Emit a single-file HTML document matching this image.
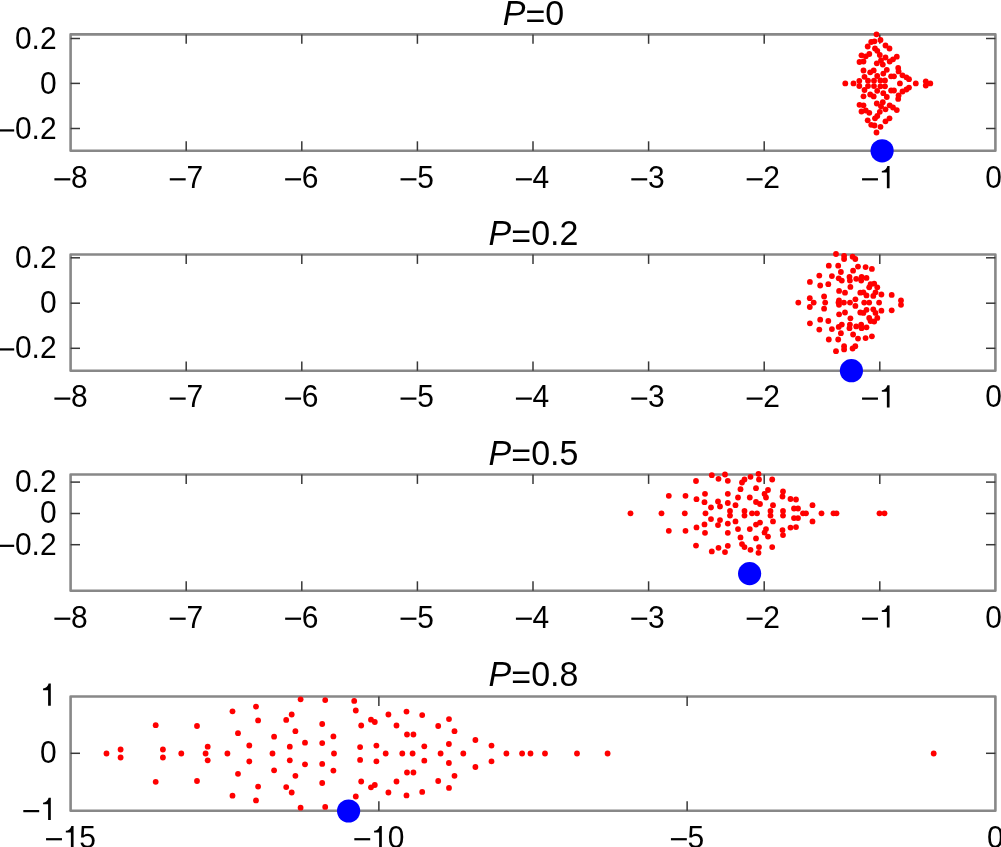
<!DOCTYPE html>
<html><head><meta charset="utf-8"><style>
html,body{margin:0;padding:0;background:#fff;overflow:hidden}
svg{display:block;will-change:transform}
text{font-family:"Liberation Sans",sans-serif;fill:#000}
path,rect{shape-rendering:geometricPrecision}
</style></head><body>
<svg width="1001" height="847" viewBox="0 0 1001 847">
<g>
<rect x="70.6" y="34.4" width="924.8" height="116.3" fill="none" stroke="#888" stroke-width="2.6" stroke-linejoin="round"/>
<g transform="translate(0,176.80) scale(1,1.05) translate(0,-176.80)"><rect x="54.40" y="178.15" width="15.90" height="2.10"/><text x="71.02" y="187.60" font-size="30">8</text></g>
<line x1="186.20" y1="34.4" x2="186.20" y2="43.80" stroke="#383838" stroke-width="1.5"/>
<line x1="186.20" y1="150.7" x2="186.20" y2="141.30" stroke="#383838" stroke-width="1.5"/>
<g transform="translate(0,176.80) scale(1,1.05) translate(0,-176.80)"><rect x="169.78" y="178.15" width="15.90" height="2.10"/><text x="186.40" y="187.60" font-size="30">7</text></g>
<line x1="301.80" y1="34.4" x2="301.80" y2="43.80" stroke="#383838" stroke-width="1.5"/>
<line x1="301.80" y1="150.7" x2="301.80" y2="141.30" stroke="#383838" stroke-width="1.5"/>
<g transform="translate(0,176.80) scale(1,1.05) translate(0,-176.80)"><rect x="285.16" y="178.15" width="15.90" height="2.10"/><text x="301.78" y="187.60" font-size="30">6</text></g>
<line x1="417.40" y1="34.4" x2="417.40" y2="43.80" stroke="#383838" stroke-width="1.5"/>
<line x1="417.40" y1="150.7" x2="417.40" y2="141.30" stroke="#383838" stroke-width="1.5"/>
<g transform="translate(0,176.80) scale(1,1.05) translate(0,-176.80)"><rect x="400.54" y="178.15" width="15.90" height="2.10"/><text x="417.16" y="187.60" font-size="30">5</text></g>
<line x1="533.00" y1="34.4" x2="533.00" y2="43.80" stroke="#383838" stroke-width="1.5"/>
<line x1="533.00" y1="150.7" x2="533.00" y2="141.30" stroke="#383838" stroke-width="1.5"/>
<g transform="translate(0,176.80) scale(1,1.05) translate(0,-176.80)"><rect x="515.92" y="178.15" width="15.90" height="2.10"/><text x="532.54" y="187.60" font-size="30">4</text></g>
<line x1="648.60" y1="34.4" x2="648.60" y2="43.80" stroke="#383838" stroke-width="1.5"/>
<line x1="648.60" y1="150.7" x2="648.60" y2="141.30" stroke="#383838" stroke-width="1.5"/>
<g transform="translate(0,176.80) scale(1,1.05) translate(0,-176.80)"><rect x="631.30" y="178.15" width="15.90" height="2.10"/><text x="647.92" y="187.60" font-size="30">3</text></g>
<line x1="764.20" y1="34.4" x2="764.20" y2="43.80" stroke="#383838" stroke-width="1.5"/>
<line x1="764.20" y1="150.7" x2="764.20" y2="141.30" stroke="#383838" stroke-width="1.5"/>
<g transform="translate(0,176.80) scale(1,1.05) translate(0,-176.80)"><rect x="746.68" y="178.15" width="15.90" height="2.10"/><text x="763.30" y="187.60" font-size="30">2</text></g>
<line x1="879.80" y1="34.4" x2="879.80" y2="43.80" stroke="#383838" stroke-width="1.5"/>
<line x1="879.80" y1="150.7" x2="879.80" y2="141.30" stroke="#383838" stroke-width="1.5"/>
<g transform="translate(0,176.80) scale(1,1.05) translate(0,-176.80)"><rect x="862.06" y="178.15" width="15.90" height="2.10"/><path d="M0.273 0L0.363 0L0.363 0.703L0.29 0.703C0.265 0.615 0.2 0.55 0.105 0.545L0.105 0.495L0.273 0.495Z" transform="translate(878.68,187.60) scale(30,-30)"/></g>
<g transform="translate(0,176.80) scale(1,1.05) translate(0,-176.80)"><text x="985.30" y="187.60" font-size="30">0</text></g>
<line x1="70.6" y1="38.5" x2="80.00" y2="38.5" stroke="#383838" stroke-width="1.5"/>
<line x1="995.4" y1="38.5" x2="986.00" y2="38.5" stroke="#383838" stroke-width="1.5"/>
<g transform="translate(0,37.90) scale(1,1.05) translate(0,-37.90)"><text x="14.90" y="48.70" font-size="30">0.2</text></g>
<line x1="70.6" y1="83.4" x2="80.00" y2="83.4" stroke="#383838" stroke-width="1.5"/>
<line x1="995.4" y1="83.4" x2="986.00" y2="83.4" stroke="#383838" stroke-width="1.5"/>
<g transform="translate(0,82.80) scale(1,1.05) translate(0,-82.80)"><text x="39.92" y="93.60" font-size="30">0</text></g>
<line x1="70.6" y1="128.5" x2="80.00" y2="128.5" stroke="#383838" stroke-width="1.5"/>
<line x1="995.4" y1="128.5" x2="986.00" y2="128.5" stroke="#383838" stroke-width="1.5"/>
<g transform="translate(0,127.90) scale(1,1.05) translate(0,-127.90)"><rect x="-1.72" y="129.25" width="15.90" height="2.10"/><text x="14.90" y="138.70" font-size="30">0.2</text></g>
<circle cx="876.5" cy="34.3" r="2.9" fill="#f00"/>
<circle cx="876.5" cy="132.5" r="2.9" fill="#f00"/>
<circle cx="880.5" cy="40.0" r="2.9" fill="#f00"/>
<circle cx="880.5" cy="126.8" r="2.9" fill="#f00"/>
<circle cx="871.2" cy="42.0" r="2.9" fill="#f00"/>
<circle cx="871.2" cy="124.8" r="2.9" fill="#f00"/>
<circle cx="874.5" cy="41.3" r="2.9" fill="#f00"/>
<circle cx="874.5" cy="125.5" r="2.9" fill="#f00"/>
<circle cx="867.7" cy="46.5" r="2.9" fill="#f00"/>
<circle cx="867.7" cy="120.3" r="2.9" fill="#f00"/>
<circle cx="885.5" cy="45.5" r="2.9" fill="#f00"/>
<circle cx="885.5" cy="121.3" r="2.9" fill="#f00"/>
<circle cx="889.5" cy="48.5" r="2.9" fill="#f00"/>
<circle cx="889.5" cy="118.3" r="2.9" fill="#f00"/>
<circle cx="875.0" cy="48.5" r="2.9" fill="#f00"/>
<circle cx="875.0" cy="118.3" r="2.9" fill="#f00"/>
<circle cx="877.3" cy="50.8" r="2.9" fill="#f00"/>
<circle cx="877.3" cy="116.0" r="2.9" fill="#f00"/>
<circle cx="879.8" cy="55.0" r="2.9" fill="#f00"/>
<circle cx="879.8" cy="111.8" r="2.9" fill="#f00"/>
<circle cx="861.5" cy="55.3" r="2.9" fill="#f00"/>
<circle cx="861.5" cy="111.5" r="2.9" fill="#f00"/>
<circle cx="865.8" cy="56.3" r="2.9" fill="#f00"/>
<circle cx="865.8" cy="110.5" r="2.9" fill="#f00"/>
<circle cx="869.3" cy="54.0" r="2.9" fill="#f00"/>
<circle cx="869.3" cy="112.8" r="2.9" fill="#f00"/>
<circle cx="859.5" cy="62.0" r="2.9" fill="#f00"/>
<circle cx="859.5" cy="104.8" r="2.9" fill="#f00"/>
<circle cx="863.5" cy="61.5" r="2.9" fill="#f00"/>
<circle cx="863.5" cy="105.3" r="2.9" fill="#f00"/>
<circle cx="876.8" cy="63.3" r="2.9" fill="#f00"/>
<circle cx="876.8" cy="103.5" r="2.9" fill="#f00"/>
<circle cx="882.8" cy="64.6" r="2.9" fill="#f00"/>
<circle cx="882.8" cy="102.2" r="2.9" fill="#f00"/>
<circle cx="881.0" cy="60.5" r="2.9" fill="#f00"/>
<circle cx="881.0" cy="106.3" r="2.9" fill="#f00"/>
<circle cx="885.5" cy="57.5" r="2.9" fill="#f00"/>
<circle cx="885.5" cy="109.3" r="2.9" fill="#f00"/>
<circle cx="889.7" cy="61.5" r="2.9" fill="#f00"/>
<circle cx="889.7" cy="105.3" r="2.9" fill="#f00"/>
<circle cx="893.0" cy="59.3" r="2.9" fill="#f00"/>
<circle cx="893.0" cy="107.5" r="2.9" fill="#f00"/>
<circle cx="896.8" cy="56.7" r="2.9" fill="#f00"/>
<circle cx="896.8" cy="110.1" r="2.9" fill="#f00"/>
<circle cx="863.5" cy="70.5" r="2.9" fill="#f00"/>
<circle cx="863.5" cy="96.3" r="2.9" fill="#f00"/>
<circle cx="870.2" cy="72.3" r="2.9" fill="#f00"/>
<circle cx="870.2" cy="94.5" r="2.9" fill="#f00"/>
<circle cx="873.7" cy="70.4" r="2.9" fill="#f00"/>
<circle cx="873.7" cy="96.4" r="2.9" fill="#f00"/>
<circle cx="886.8" cy="69.8" r="2.9" fill="#f00"/>
<circle cx="886.8" cy="97.0" r="2.9" fill="#f00"/>
<circle cx="883.3" cy="73.6" r="2.9" fill="#f00"/>
<circle cx="883.3" cy="93.2" r="2.9" fill="#f00"/>
<circle cx="877.2" cy="76.0" r="2.9" fill="#f00"/>
<circle cx="877.2" cy="90.8" r="2.9" fill="#f00"/>
<circle cx="898.2" cy="67.9" r="2.9" fill="#f00"/>
<circle cx="898.2" cy="98.9" r="2.9" fill="#f00"/>
<circle cx="898.6" cy="71.4" r="2.9" fill="#f00"/>
<circle cx="898.6" cy="95.4" r="2.9" fill="#f00"/>
<circle cx="891.1" cy="76.3" r="2.9" fill="#f00"/>
<circle cx="891.1" cy="90.5" r="2.9" fill="#f00"/>
<circle cx="894.0" cy="76.3" r="2.9" fill="#f00"/>
<circle cx="894.0" cy="90.5" r="2.9" fill="#f00"/>
<circle cx="864.5" cy="76.8" r="2.9" fill="#f00"/>
<circle cx="864.5" cy="90.0" r="2.9" fill="#f00"/>
<circle cx="902.5" cy="75.3" r="2.9" fill="#f00"/>
<circle cx="902.5" cy="91.5" r="2.9" fill="#f00"/>
<circle cx="906.4" cy="77.3" r="2.9" fill="#f00"/>
<circle cx="906.4" cy="89.5" r="2.9" fill="#f00"/>
<circle cx="909.0" cy="79.2" r="2.9" fill="#f00"/>
<circle cx="909.0" cy="87.6" r="2.9" fill="#f00"/>
<circle cx="859.3" cy="80.8" r="2.9" fill="#f00"/>
<circle cx="859.3" cy="86.0" r="2.9" fill="#f00"/>
<circle cx="868.0" cy="80.7" r="2.9" fill="#f00"/>
<circle cx="868.0" cy="86.1" r="2.9" fill="#f00"/>
<circle cx="874.0" cy="80.7" r="2.9" fill="#f00"/>
<circle cx="874.0" cy="86.1" r="2.9" fill="#f00"/>
<circle cx="880.4" cy="80.5" r="2.9" fill="#f00"/>
<circle cx="880.4" cy="86.3" r="2.9" fill="#f00"/>
<circle cx="885.0" cy="80.5" r="2.9" fill="#f00"/>
<circle cx="885.0" cy="86.3" r="2.9" fill="#f00"/>
<circle cx="925.8" cy="81.3" r="2.9" fill="#f00"/>
<circle cx="925.8" cy="85.5" r="2.9" fill="#f00"/>
<circle cx="845.3" cy="83.4" r="2.9" fill="#f00"/>
<circle cx="853.5" cy="83.4" r="2.9" fill="#f00"/>
<circle cx="899.9" cy="83.4" r="2.9" fill="#f00"/>
<circle cx="915.8" cy="83.4" r="2.9" fill="#f00"/>
<circle cx="930.3" cy="83.4" r="2.9" fill="#f00"/>
<text transform="translate(0,12.26) scale(1,1.03) translate(0,-12.26)" x="533.5" y="24.5" font-size="34" text-anchor="middle"><tspan font-style="italic">P</tspan><tspan dy="2.6">=</tspan><tspan dy="-2.6">0</tspan></text>
<circle cx="882.1" cy="150.8" r="11.6" fill="#00f"/>
</g>
<g>
<rect x="70.6" y="254.5" width="924.8" height="116.3" fill="none" stroke="#888" stroke-width="2.6" stroke-linejoin="round"/>
<g transform="translate(0,396.10) scale(1,1.05) translate(0,-396.10)"><rect x="54.40" y="397.45" width="15.90" height="2.10"/><text x="71.02" y="406.90" font-size="30">8</text></g>
<line x1="186.20" y1="254.5" x2="186.20" y2="263.90" stroke="#383838" stroke-width="1.5"/>
<line x1="186.20" y1="370.8" x2="186.20" y2="361.40" stroke="#383838" stroke-width="1.5"/>
<g transform="translate(0,396.10) scale(1,1.05) translate(0,-396.10)"><rect x="169.78" y="397.45" width="15.90" height="2.10"/><text x="186.40" y="406.90" font-size="30">7</text></g>
<line x1="301.80" y1="254.5" x2="301.80" y2="263.90" stroke="#383838" stroke-width="1.5"/>
<line x1="301.80" y1="370.8" x2="301.80" y2="361.40" stroke="#383838" stroke-width="1.5"/>
<g transform="translate(0,396.10) scale(1,1.05) translate(0,-396.10)"><rect x="285.16" y="397.45" width="15.90" height="2.10"/><text x="301.78" y="406.90" font-size="30">6</text></g>
<line x1="417.40" y1="254.5" x2="417.40" y2="263.90" stroke="#383838" stroke-width="1.5"/>
<line x1="417.40" y1="370.8" x2="417.40" y2="361.40" stroke="#383838" stroke-width="1.5"/>
<g transform="translate(0,396.10) scale(1,1.05) translate(0,-396.10)"><rect x="400.54" y="397.45" width="15.90" height="2.10"/><text x="417.16" y="406.90" font-size="30">5</text></g>
<line x1="533.00" y1="254.5" x2="533.00" y2="263.90" stroke="#383838" stroke-width="1.5"/>
<line x1="533.00" y1="370.8" x2="533.00" y2="361.40" stroke="#383838" stroke-width="1.5"/>
<g transform="translate(0,396.10) scale(1,1.05) translate(0,-396.10)"><rect x="515.92" y="397.45" width="15.90" height="2.10"/><text x="532.54" y="406.90" font-size="30">4</text></g>
<line x1="648.60" y1="254.5" x2="648.60" y2="263.90" stroke="#383838" stroke-width="1.5"/>
<line x1="648.60" y1="370.8" x2="648.60" y2="361.40" stroke="#383838" stroke-width="1.5"/>
<g transform="translate(0,396.10) scale(1,1.05) translate(0,-396.10)"><rect x="631.30" y="397.45" width="15.90" height="2.10"/><text x="647.92" y="406.90" font-size="30">3</text></g>
<line x1="764.20" y1="254.5" x2="764.20" y2="263.90" stroke="#383838" stroke-width="1.5"/>
<line x1="764.20" y1="370.8" x2="764.20" y2="361.40" stroke="#383838" stroke-width="1.5"/>
<g transform="translate(0,396.10) scale(1,1.05) translate(0,-396.10)"><rect x="746.68" y="397.45" width="15.90" height="2.10"/><text x="763.30" y="406.90" font-size="30">2</text></g>
<line x1="879.80" y1="254.5" x2="879.80" y2="263.90" stroke="#383838" stroke-width="1.5"/>
<line x1="879.80" y1="370.8" x2="879.80" y2="361.40" stroke="#383838" stroke-width="1.5"/>
<g transform="translate(0,396.10) scale(1,1.05) translate(0,-396.10)"><rect x="862.06" y="397.45" width="15.90" height="2.10"/><path d="M0.273 0L0.363 0L0.363 0.703L0.29 0.703C0.265 0.615 0.2 0.55 0.105 0.545L0.105 0.495L0.273 0.495Z" transform="translate(878.68,406.90) scale(30,-30)"/></g>
<g transform="translate(0,396.10) scale(1,1.05) translate(0,-396.10)"><text x="985.30" y="406.90" font-size="30">0</text></g>
<line x1="70.6" y1="257.8" x2="80.00" y2="257.8" stroke="#383838" stroke-width="1.5"/>
<line x1="995.4" y1="257.8" x2="986.00" y2="257.8" stroke="#383838" stroke-width="1.5"/>
<g transform="translate(0,256.40) scale(1,1.05) translate(0,-256.40)"><text x="14.90" y="267.20" font-size="30">0.2</text></g>
<line x1="70.6" y1="303.2" x2="80.00" y2="303.2" stroke="#383838" stroke-width="1.5"/>
<line x1="995.4" y1="303.2" x2="986.00" y2="303.2" stroke="#383838" stroke-width="1.5"/>
<g transform="translate(0,301.80) scale(1,1.05) translate(0,-301.80)"><text x="39.92" y="312.60" font-size="30">0</text></g>
<line x1="70.6" y1="348.3" x2="80.00" y2="348.3" stroke="#383838" stroke-width="1.5"/>
<line x1="995.4" y1="348.3" x2="986.00" y2="348.3" stroke="#383838" stroke-width="1.5"/>
<g transform="translate(0,346.90) scale(1,1.05) translate(0,-346.90)"><rect x="-1.72" y="348.25" width="15.90" height="2.10"/><text x="14.90" y="357.70" font-size="30">0.2</text></g>
<circle cx="836.0" cy="254.0" r="2.9" fill="#f00"/>
<circle cx="836.0" cy="351.2" r="2.9" fill="#f00"/>
<circle cx="844.1" cy="255.8" r="2.9" fill="#f00"/>
<circle cx="844.1" cy="349.4" r="2.9" fill="#f00"/>
<circle cx="844.1" cy="259.0" r="2.9" fill="#f00"/>
<circle cx="844.1" cy="346.2" r="2.9" fill="#f00"/>
<circle cx="852.6" cy="256.7" r="2.9" fill="#f00"/>
<circle cx="852.6" cy="348.5" r="2.9" fill="#f00"/>
<circle cx="855.3" cy="259.0" r="2.9" fill="#f00"/>
<circle cx="855.3" cy="346.2" r="2.9" fill="#f00"/>
<circle cx="828.8" cy="265.7" r="2.9" fill="#f00"/>
<circle cx="828.8" cy="339.5" r="2.9" fill="#f00"/>
<circle cx="838.2" cy="265.7" r="2.9" fill="#f00"/>
<circle cx="838.2" cy="339.5" r="2.9" fill="#f00"/>
<circle cx="858.0" cy="266.6" r="2.9" fill="#f00"/>
<circle cx="858.0" cy="338.6" r="2.9" fill="#f00"/>
<circle cx="865.6" cy="267.1" r="2.9" fill="#f00"/>
<circle cx="865.6" cy="338.1" r="2.9" fill="#f00"/>
<circle cx="871.9" cy="268.9" r="2.9" fill="#f00"/>
<circle cx="871.9" cy="336.3" r="2.9" fill="#f00"/>
<circle cx="840.9" cy="272.0" r="2.9" fill="#f00"/>
<circle cx="840.9" cy="333.2" r="2.9" fill="#f00"/>
<circle cx="853.1" cy="270.7" r="2.9" fill="#f00"/>
<circle cx="853.1" cy="334.5" r="2.9" fill="#f00"/>
<circle cx="819.3" cy="275.6" r="2.9" fill="#f00"/>
<circle cx="819.3" cy="329.6" r="2.9" fill="#f00"/>
<circle cx="831.9" cy="276.1" r="2.9" fill="#f00"/>
<circle cx="831.9" cy="329.1" r="2.9" fill="#f00"/>
<circle cx="838.7" cy="278.3" r="2.9" fill="#f00"/>
<circle cx="838.7" cy="326.9" r="2.9" fill="#f00"/>
<circle cx="841.8" cy="280.6" r="2.9" fill="#f00"/>
<circle cx="841.8" cy="324.6" r="2.9" fill="#f00"/>
<circle cx="849.5" cy="277.0" r="2.9" fill="#f00"/>
<circle cx="849.5" cy="328.2" r="2.9" fill="#f00"/>
<circle cx="849.9" cy="280.6" r="2.9" fill="#f00"/>
<circle cx="849.9" cy="324.6" r="2.9" fill="#f00"/>
<circle cx="850.4" cy="286.9" r="2.9" fill="#f00"/>
<circle cx="850.4" cy="318.3" r="2.9" fill="#f00"/>
<circle cx="856.2" cy="278.8" r="2.9" fill="#f00"/>
<circle cx="856.2" cy="326.4" r="2.9" fill="#f00"/>
<circle cx="861.6" cy="277.0" r="2.9" fill="#f00"/>
<circle cx="861.6" cy="328.2" r="2.9" fill="#f00"/>
<circle cx="861.2" cy="280.6" r="2.9" fill="#f00"/>
<circle cx="861.2" cy="324.6" r="2.9" fill="#f00"/>
<circle cx="866.5" cy="277.9" r="2.9" fill="#f00"/>
<circle cx="866.5" cy="327.3" r="2.9" fill="#f00"/>
<circle cx="809.9" cy="281.9" r="2.9" fill="#f00"/>
<circle cx="809.9" cy="323.3" r="2.9" fill="#f00"/>
<circle cx="820.2" cy="285.5" r="2.9" fill="#f00"/>
<circle cx="820.2" cy="319.7" r="2.9" fill="#f00"/>
<circle cx="828.3" cy="284.2" r="2.9" fill="#f00"/>
<circle cx="828.3" cy="321.0" r="2.9" fill="#f00"/>
<circle cx="870.6" cy="284.2" r="2.9" fill="#f00"/>
<circle cx="870.6" cy="321.0" r="2.9" fill="#f00"/>
<circle cx="874.2" cy="283.7" r="2.9" fill="#f00"/>
<circle cx="874.2" cy="321.5" r="2.9" fill="#f00"/>
<circle cx="869.2" cy="287.3" r="2.9" fill="#f00"/>
<circle cx="869.2" cy="317.9" r="2.9" fill="#f00"/>
<circle cx="877.3" cy="287.3" r="2.9" fill="#f00"/>
<circle cx="877.3" cy="317.9" r="2.9" fill="#f00"/>
<circle cx="839.1" cy="290.9" r="2.9" fill="#f00"/>
<circle cx="839.1" cy="314.3" r="2.9" fill="#f00"/>
<circle cx="845.0" cy="292.7" r="2.9" fill="#f00"/>
<circle cx="845.0" cy="312.5" r="2.9" fill="#f00"/>
<circle cx="860.3" cy="292.7" r="2.9" fill="#f00"/>
<circle cx="860.3" cy="312.5" r="2.9" fill="#f00"/>
<circle cx="863.4" cy="292.3" r="2.9" fill="#f00"/>
<circle cx="863.4" cy="312.9" r="2.9" fill="#f00"/>
<circle cx="866.5" cy="295.4" r="2.9" fill="#f00"/>
<circle cx="866.5" cy="309.8" r="2.9" fill="#f00"/>
<circle cx="875.5" cy="292.3" r="2.9" fill="#f00"/>
<circle cx="875.5" cy="312.9" r="2.9" fill="#f00"/>
<circle cx="873.3" cy="295.9" r="2.9" fill="#f00"/>
<circle cx="873.3" cy="309.3" r="2.9" fill="#f00"/>
<circle cx="881.4" cy="294.5" r="2.9" fill="#f00"/>
<circle cx="881.4" cy="310.7" r="2.9" fill="#f00"/>
<circle cx="891.7" cy="294.9" r="2.9" fill="#f00"/>
<circle cx="891.7" cy="310.3" r="2.9" fill="#f00"/>
<circle cx="809.8" cy="298.2" r="2.9" fill="#f00"/>
<circle cx="809.8" cy="307.0" r="2.9" fill="#f00"/>
<circle cx="824.1" cy="296.5" r="2.9" fill="#f00"/>
<circle cx="824.1" cy="308.7" r="2.9" fill="#f00"/>
<circle cx="839.0" cy="300.4" r="2.9" fill="#f00"/>
<circle cx="839.0" cy="304.8" r="2.9" fill="#f00"/>
<circle cx="855.4" cy="299.3" r="2.9" fill="#f00"/>
<circle cx="855.4" cy="305.9" r="2.9" fill="#f00"/>
<circle cx="901.0" cy="300.4" r="2.9" fill="#f00"/>
<circle cx="901.0" cy="304.8" r="2.9" fill="#f00"/>
<circle cx="798.3" cy="302.6" r="2.9" fill="#f00"/>
<circle cx="813.7" cy="302.6" r="2.9" fill="#f00"/>
<circle cx="825.2" cy="302.6" r="2.9" fill="#f00"/>
<circle cx="838.5" cy="302.6" r="2.9" fill="#f00"/>
<circle cx="843.9" cy="302.6" r="2.9" fill="#f00"/>
<circle cx="850.0" cy="302.6" r="2.9" fill="#f00"/>
<circle cx="864.2" cy="302.6" r="2.9" fill="#f00"/>
<circle cx="869.2" cy="302.6" r="2.9" fill="#f00"/>
<circle cx="879.1" cy="302.6" r="2.9" fill="#f00"/>
<text transform="translate(0,232.76) scale(1,1.03) translate(0,-232.76)" x="533.5" y="245.0" font-size="34" text-anchor="middle"><tspan font-style="italic">P</tspan><tspan dy="2.6">=</tspan><tspan dy="-2.6">0.2</tspan></text>
<circle cx="851.4" cy="370.7" r="11.6" fill="#00f"/>
</g>
<g>
<rect x="70.6" y="474.5" width="924.8" height="116.2" fill="none" stroke="#888" stroke-width="2.6" stroke-linejoin="round"/>
<g transform="translate(0,616.20) scale(1,1.05) translate(0,-616.20)"><rect x="54.40" y="617.55" width="15.90" height="2.10"/><text x="71.02" y="627.00" font-size="30">8</text></g>
<line x1="186.20" y1="474.5" x2="186.20" y2="483.90" stroke="#383838" stroke-width="1.5"/>
<line x1="186.20" y1="590.7" x2="186.20" y2="581.30" stroke="#383838" stroke-width="1.5"/>
<g transform="translate(0,616.20) scale(1,1.05) translate(0,-616.20)"><rect x="169.78" y="617.55" width="15.90" height="2.10"/><text x="186.40" y="627.00" font-size="30">7</text></g>
<line x1="301.80" y1="474.5" x2="301.80" y2="483.90" stroke="#383838" stroke-width="1.5"/>
<line x1="301.80" y1="590.7" x2="301.80" y2="581.30" stroke="#383838" stroke-width="1.5"/>
<g transform="translate(0,616.20) scale(1,1.05) translate(0,-616.20)"><rect x="285.16" y="617.55" width="15.90" height="2.10"/><text x="301.78" y="627.00" font-size="30">6</text></g>
<line x1="417.40" y1="474.5" x2="417.40" y2="483.90" stroke="#383838" stroke-width="1.5"/>
<line x1="417.40" y1="590.7" x2="417.40" y2="581.30" stroke="#383838" stroke-width="1.5"/>
<g transform="translate(0,616.20) scale(1,1.05) translate(0,-616.20)"><rect x="400.54" y="617.55" width="15.90" height="2.10"/><text x="417.16" y="627.00" font-size="30">5</text></g>
<line x1="533.00" y1="474.5" x2="533.00" y2="483.90" stroke="#383838" stroke-width="1.5"/>
<line x1="533.00" y1="590.7" x2="533.00" y2="581.30" stroke="#383838" stroke-width="1.5"/>
<g transform="translate(0,616.20) scale(1,1.05) translate(0,-616.20)"><rect x="515.92" y="617.55" width="15.90" height="2.10"/><text x="532.54" y="627.00" font-size="30">4</text></g>
<line x1="648.60" y1="474.5" x2="648.60" y2="483.90" stroke="#383838" stroke-width="1.5"/>
<line x1="648.60" y1="590.7" x2="648.60" y2="581.30" stroke="#383838" stroke-width="1.5"/>
<g transform="translate(0,616.20) scale(1,1.05) translate(0,-616.20)"><rect x="631.30" y="617.55" width="15.90" height="2.10"/><text x="647.92" y="627.00" font-size="30">3</text></g>
<line x1="764.20" y1="474.5" x2="764.20" y2="483.90" stroke="#383838" stroke-width="1.5"/>
<line x1="764.20" y1="590.7" x2="764.20" y2="581.30" stroke="#383838" stroke-width="1.5"/>
<g transform="translate(0,616.20) scale(1,1.05) translate(0,-616.20)"><rect x="746.68" y="617.55" width="15.90" height="2.10"/><text x="763.30" y="627.00" font-size="30">2</text></g>
<line x1="879.80" y1="474.5" x2="879.80" y2="483.90" stroke="#383838" stroke-width="1.5"/>
<line x1="879.80" y1="590.7" x2="879.80" y2="581.30" stroke="#383838" stroke-width="1.5"/>
<g transform="translate(0,616.20) scale(1,1.05) translate(0,-616.20)"><rect x="862.06" y="617.55" width="15.90" height="2.10"/><path d="M0.273 0L0.363 0L0.363 0.703L0.29 0.703C0.265 0.615 0.2 0.55 0.105 0.545L0.105 0.495L0.273 0.495Z" transform="translate(878.68,627.00) scale(30,-30)"/></g>
<g transform="translate(0,616.20) scale(1,1.05) translate(0,-616.20)"><text x="985.30" y="627.00" font-size="30">0</text></g>
<line x1="70.6" y1="482.1" x2="80.00" y2="482.1" stroke="#383838" stroke-width="1.5"/>
<line x1="995.4" y1="482.1" x2="986.00" y2="482.1" stroke="#383838" stroke-width="1.5"/>
<g transform="translate(0,480.70) scale(1,1.05) translate(0,-480.70)"><text x="14.90" y="491.50" font-size="30">0.2</text></g>
<line x1="70.6" y1="513.5" x2="80.00" y2="513.5" stroke="#383838" stroke-width="1.5"/>
<line x1="995.4" y1="513.5" x2="986.00" y2="513.5" stroke="#383838" stroke-width="1.5"/>
<g transform="translate(0,512.10) scale(1,1.05) translate(0,-512.10)"><text x="39.92" y="522.90" font-size="30">0</text></g>
<line x1="70.6" y1="544.7" x2="80.00" y2="544.7" stroke="#383838" stroke-width="1.5"/>
<line x1="995.4" y1="544.7" x2="986.00" y2="544.7" stroke="#383838" stroke-width="1.5"/>
<g transform="translate(0,543.30) scale(1,1.05) translate(0,-543.30)"><rect x="-1.72" y="544.65" width="15.90" height="2.10"/><text x="14.90" y="554.10" font-size="30">0.2</text></g>
<circle cx="668.8" cy="495.8" r="2.9" fill="#f00"/>
<circle cx="668.8" cy="530.8" r="2.9" fill="#f00"/>
<circle cx="685.5" cy="495.8" r="2.9" fill="#f00"/>
<circle cx="685.5" cy="530.8" r="2.9" fill="#f00"/>
<circle cx="696.0" cy="481.0" r="2.9" fill="#f00"/>
<circle cx="696.0" cy="545.6" r="2.9" fill="#f00"/>
<circle cx="696.5" cy="499.2" r="2.9" fill="#f00"/>
<circle cx="696.5" cy="527.4" r="2.9" fill="#f00"/>
<circle cx="705.0" cy="493.8" r="2.9" fill="#f00"/>
<circle cx="705.0" cy="532.8" r="2.9" fill="#f00"/>
<circle cx="704.5" cy="502.2" r="2.9" fill="#f00"/>
<circle cx="704.5" cy="524.4" r="2.9" fill="#f00"/>
<circle cx="711.0" cy="507.5" r="2.9" fill="#f00"/>
<circle cx="711.0" cy="519.1" r="2.9" fill="#f00"/>
<circle cx="711.8" cy="475.2" r="2.9" fill="#f00"/>
<circle cx="711.8" cy="551.4" r="2.9" fill="#f00"/>
<circle cx="718.5" cy="478.8" r="2.9" fill="#f00"/>
<circle cx="718.5" cy="547.8" r="2.9" fill="#f00"/>
<circle cx="718.0" cy="501.5" r="2.9" fill="#f00"/>
<circle cx="718.0" cy="525.1" r="2.9" fill="#f00"/>
<circle cx="720.0" cy="506.5" r="2.9" fill="#f00"/>
<circle cx="720.0" cy="520.1" r="2.9" fill="#f00"/>
<circle cx="725.0" cy="474.5" r="2.9" fill="#f00"/>
<circle cx="725.0" cy="552.1" r="2.9" fill="#f00"/>
<circle cx="727.8" cy="480.8" r="2.9" fill="#f00"/>
<circle cx="727.8" cy="545.8" r="2.9" fill="#f00"/>
<circle cx="742.0" cy="482.5" r="2.9" fill="#f00"/>
<circle cx="742.0" cy="544.1" r="2.9" fill="#f00"/>
<circle cx="744.5" cy="479.5" r="2.9" fill="#f00"/>
<circle cx="744.5" cy="547.1" r="2.9" fill="#f00"/>
<circle cx="750.5" cy="476.8" r="2.9" fill="#f00"/>
<circle cx="750.5" cy="549.8" r="2.9" fill="#f00"/>
<circle cx="758.5" cy="473.8" r="2.9" fill="#f00"/>
<circle cx="758.5" cy="552.8" r="2.9" fill="#f00"/>
<circle cx="759.0" cy="479.5" r="2.9" fill="#f00"/>
<circle cx="759.0" cy="547.1" r="2.9" fill="#f00"/>
<circle cx="772.2" cy="479.5" r="2.9" fill="#f00"/>
<circle cx="772.2" cy="547.1" r="2.9" fill="#f00"/>
<circle cx="727.8" cy="493.8" r="2.9" fill="#f00"/>
<circle cx="727.8" cy="532.8" r="2.9" fill="#f00"/>
<circle cx="740.5" cy="489.2" r="2.9" fill="#f00"/>
<circle cx="740.5" cy="537.4" r="2.9" fill="#f00"/>
<circle cx="756.0" cy="488.2" r="2.9" fill="#f00"/>
<circle cx="756.0" cy="538.4" r="2.9" fill="#f00"/>
<circle cx="768.0" cy="490.0" r="2.9" fill="#f00"/>
<circle cx="768.0" cy="536.6" r="2.9" fill="#f00"/>
<circle cx="764.5" cy="494.0" r="2.9" fill="#f00"/>
<circle cx="764.5" cy="532.6" r="2.9" fill="#f00"/>
<circle cx="766.0" cy="497.5" r="2.9" fill="#f00"/>
<circle cx="766.0" cy="529.1" r="2.9" fill="#f00"/>
<circle cx="783.0" cy="491.5" r="2.9" fill="#f00"/>
<circle cx="783.0" cy="535.1" r="2.9" fill="#f00"/>
<circle cx="782.5" cy="496.5" r="2.9" fill="#f00"/>
<circle cx="782.5" cy="530.1" r="2.9" fill="#f00"/>
<circle cx="790.5" cy="499.0" r="2.9" fill="#f00"/>
<circle cx="790.5" cy="527.6" r="2.9" fill="#f00"/>
<circle cx="796.0" cy="499.5" r="2.9" fill="#f00"/>
<circle cx="796.0" cy="527.1" r="2.9" fill="#f00"/>
<circle cx="727.8" cy="503.0" r="2.9" fill="#f00"/>
<circle cx="727.8" cy="523.6" r="2.9" fill="#f00"/>
<circle cx="738.0" cy="497.5" r="2.9" fill="#f00"/>
<circle cx="738.0" cy="529.1" r="2.9" fill="#f00"/>
<circle cx="735.5" cy="505.2" r="2.9" fill="#f00"/>
<circle cx="735.5" cy="521.4" r="2.9" fill="#f00"/>
<circle cx="749.8" cy="497.5" r="2.9" fill="#f00"/>
<circle cx="749.8" cy="529.1" r="2.9" fill="#f00"/>
<circle cx="756.0" cy="502.0" r="2.9" fill="#f00"/>
<circle cx="756.0" cy="524.6" r="2.9" fill="#f00"/>
<circle cx="760.0" cy="504.0" r="2.9" fill="#f00"/>
<circle cx="760.0" cy="522.6" r="2.9" fill="#f00"/>
<circle cx="773.0" cy="505.2" r="2.9" fill="#f00"/>
<circle cx="773.0" cy="521.4" r="2.9" fill="#f00"/>
<circle cx="812.5" cy="505.2" r="2.9" fill="#f00"/>
<circle cx="812.5" cy="521.4" r="2.9" fill="#f00"/>
<circle cx="794.0" cy="508.5" r="2.9" fill="#f00"/>
<circle cx="794.0" cy="518.1" r="2.9" fill="#f00"/>
<circle cx="798.0" cy="508.5" r="2.9" fill="#f00"/>
<circle cx="798.0" cy="518.1" r="2.9" fill="#f00"/>
<circle cx="730.0" cy="511.0" r="2.9" fill="#f00"/>
<circle cx="730.0" cy="515.6" r="2.9" fill="#f00"/>
<circle cx="744.5" cy="511.0" r="2.9" fill="#f00"/>
<circle cx="744.5" cy="515.6" r="2.9" fill="#f00"/>
<circle cx="770.5" cy="511.0" r="2.9" fill="#f00"/>
<circle cx="770.5" cy="515.6" r="2.9" fill="#f00"/>
<circle cx="783.0" cy="511.0" r="2.9" fill="#f00"/>
<circle cx="783.0" cy="515.6" r="2.9" fill="#f00"/>
<circle cx="630.5" cy="513.3" r="2.9" fill="#f00"/>
<circle cx="661.5" cy="513.3" r="2.9" fill="#f00"/>
<circle cx="684.8" cy="513.3" r="2.9" fill="#f00"/>
<circle cx="705.5" cy="513.3" r="2.9" fill="#f00"/>
<circle cx="752.0" cy="513.3" r="2.9" fill="#f00"/>
<circle cx="757.0" cy="513.3" r="2.9" fill="#f00"/>
<circle cx="803.0" cy="513.3" r="2.9" fill="#f00"/>
<circle cx="806.0" cy="513.3" r="2.9" fill="#f00"/>
<circle cx="821.5" cy="513.3" r="2.9" fill="#f00"/>
<circle cx="833.5" cy="513.3" r="2.9" fill="#f00"/>
<circle cx="836.5" cy="513.3" r="2.9" fill="#f00"/>
<circle cx="879.5" cy="513.3" r="2.9" fill="#f00"/>
<circle cx="884.5" cy="513.3" r="2.9" fill="#f00"/>
<text transform="translate(0,452.06) scale(1,1.03) translate(0,-452.06)" x="533.5" y="464.3" font-size="34" text-anchor="middle"><tspan font-style="italic">P</tspan><tspan dy="2.6">=</tspan><tspan dy="-2.6">0.5</tspan></text>
<circle cx="749.6" cy="573.6" r="11.6" fill="#00f"/>
</g>
<g>
<rect x="70.6" y="696.5" width="924.8" height="114.2" fill="none" stroke="#888" stroke-width="2.6" stroke-linejoin="round"/>
<g transform="translate(0,836.70) scale(1,1.05) translate(0,-836.70)"><rect x="46.06" y="838.05" width="15.90" height="2.10"/><path d="M0.273 0L0.363 0L0.363 0.703L0.29 0.703C0.265 0.615 0.2 0.55 0.105 0.545L0.105 0.495L0.273 0.495Z" transform="translate(62.68,847.50) scale(30,-30)"/><text x="79.36" y="847.50" font-size="30">5</text></g>
<line x1="378.87" y1="696.5" x2="378.87" y2="705.90" stroke="#383838" stroke-width="1.5"/>
<line x1="378.87" y1="810.7" x2="378.87" y2="801.30" stroke="#383838" stroke-width="1.5"/>
<g transform="translate(0,836.70) scale(1,1.05) translate(0,-836.70)"><rect x="354.32" y="838.05" width="15.90" height="2.10"/><path d="M0.273 0L0.363 0L0.363 0.703L0.29 0.703C0.265 0.615 0.2 0.55 0.105 0.545L0.105 0.495L0.273 0.495Z" transform="translate(370.94,847.50) scale(30,-30)"/><text x="387.63" y="847.50" font-size="30">0</text></g>
<line x1="687.13" y1="696.5" x2="687.13" y2="705.90" stroke="#383838" stroke-width="1.5"/>
<line x1="687.13" y1="810.7" x2="687.13" y2="801.30" stroke="#383838" stroke-width="1.5"/>
<g transform="translate(0,836.70) scale(1,1.05) translate(0,-836.70)"><rect x="670.93" y="838.05" width="15.90" height="2.10"/><text x="687.55" y="847.50" font-size="30">5</text></g>
<g transform="translate(0,836.70) scale(1,1.05) translate(0,-836.70)"><text x="987.06" y="847.50" font-size="30">0</text></g>
<g transform="translate(0,694.40) scale(1,1.05) translate(0,-694.40)"><path d="M0.273 0L0.363 0L0.363 0.703L0.29 0.703C0.265 0.615 0.2 0.55 0.105 0.545L0.105 0.495L0.273 0.495Z" transform="translate(39.92,705.20) scale(30,-30)"/></g>
<line x1="70.6" y1="753.3" x2="80.00" y2="753.3" stroke="#383838" stroke-width="1.5"/>
<line x1="995.4" y1="753.3" x2="986.00" y2="753.3" stroke="#383838" stroke-width="1.5"/>
<g transform="translate(0,751.20) scale(1,1.05) translate(0,-751.20)"><text x="39.92" y="762.00" font-size="30">0</text></g>
<g transform="translate(0,808.60) scale(1,1.05) translate(0,-808.60)"><rect x="23.30" y="809.95" width="15.90" height="2.10"/><path d="M0.273 0L0.363 0L0.363 0.703L0.29 0.703C0.265 0.615 0.2 0.55 0.105 0.545L0.105 0.495L0.273 0.495Z" transform="translate(39.92,819.40) scale(30,-30)"/></g>
<circle cx="120.6" cy="749.5" r="2.9" fill="#f00"/>
<circle cx="120.6" cy="757.5" r="2.9" fill="#f00"/>
<circle cx="155.7" cy="725.2" r="2.9" fill="#f00"/>
<circle cx="155.7" cy="781.8" r="2.9" fill="#f00"/>
<circle cx="162.9" cy="749.5" r="2.9" fill="#f00"/>
<circle cx="162.9" cy="757.5" r="2.9" fill="#f00"/>
<circle cx="197.0" cy="726.0" r="2.9" fill="#f00"/>
<circle cx="197.0" cy="781.0" r="2.9" fill="#f00"/>
<circle cx="207.7" cy="746.7" r="2.9" fill="#f00"/>
<circle cx="207.7" cy="760.3" r="2.9" fill="#f00"/>
<circle cx="232.5" cy="711.3" r="2.9" fill="#f00"/>
<circle cx="232.5" cy="795.7" r="2.9" fill="#f00"/>
<circle cx="238.0" cy="733.2" r="2.9" fill="#f00"/>
<circle cx="238.0" cy="773.8" r="2.9" fill="#f00"/>
<circle cx="249.3" cy="745.5" r="2.9" fill="#f00"/>
<circle cx="249.3" cy="761.5" r="2.9" fill="#f00"/>
<circle cx="256.0" cy="706.6" r="2.9" fill="#f00"/>
<circle cx="256.0" cy="800.4" r="2.9" fill="#f00"/>
<circle cx="258.1" cy="720.4" r="2.9" fill="#f00"/>
<circle cx="258.1" cy="786.6" r="2.9" fill="#f00"/>
<circle cx="274.1" cy="736.7" r="2.9" fill="#f00"/>
<circle cx="274.1" cy="770.3" r="2.9" fill="#f00"/>
<circle cx="286.2" cy="719.9" r="2.9" fill="#f00"/>
<circle cx="286.2" cy="787.1" r="2.9" fill="#f00"/>
<circle cx="291.7" cy="714.5" r="2.9" fill="#f00"/>
<circle cx="291.7" cy="792.5" r="2.9" fill="#f00"/>
<circle cx="300.6" cy="699.3" r="2.9" fill="#f00"/>
<circle cx="300.6" cy="807.7" r="2.9" fill="#f00"/>
<circle cx="295.4" cy="731.2" r="2.9" fill="#f00"/>
<circle cx="295.4" cy="775.8" r="2.9" fill="#f00"/>
<circle cx="289.8" cy="746.7" r="2.9" fill="#f00"/>
<circle cx="289.8" cy="760.3" r="2.9" fill="#f00"/>
<circle cx="305.0" cy="742.7" r="2.9" fill="#f00"/>
<circle cx="305.0" cy="764.3" r="2.9" fill="#f00"/>
<circle cx="325.2" cy="700.1" r="2.9" fill="#f00"/>
<circle cx="325.2" cy="806.9" r="2.9" fill="#f00"/>
<circle cx="322.2" cy="724.0" r="2.9" fill="#f00"/>
<circle cx="322.2" cy="783.0" r="2.9" fill="#f00"/>
<circle cx="322.2" cy="743.1" r="2.9" fill="#f00"/>
<circle cx="322.2" cy="763.9" r="2.9" fill="#f00"/>
<circle cx="333.4" cy="736.4" r="2.9" fill="#f00"/>
<circle cx="333.4" cy="770.6" r="2.9" fill="#f00"/>
<circle cx="354.2" cy="700.9" r="2.9" fill="#f00"/>
<circle cx="354.2" cy="806.1" r="2.9" fill="#f00"/>
<circle cx="355.8" cy="710.5" r="2.9" fill="#f00"/>
<circle cx="355.8" cy="796.5" r="2.9" fill="#f00"/>
<circle cx="361.2" cy="725.5" r="2.9" fill="#f00"/>
<circle cx="361.2" cy="781.5" r="2.9" fill="#f00"/>
<circle cx="360.1" cy="747.1" r="2.9" fill="#f00"/>
<circle cx="360.1" cy="759.9" r="2.9" fill="#f00"/>
<circle cx="371.0" cy="719.7" r="2.9" fill="#f00"/>
<circle cx="371.0" cy="787.3" r="2.9" fill="#f00"/>
<circle cx="374.8" cy="722.0" r="2.9" fill="#f00"/>
<circle cx="374.8" cy="785.0" r="2.9" fill="#f00"/>
<circle cx="376.4" cy="745.6" r="2.9" fill="#f00"/>
<circle cx="376.4" cy="761.4" r="2.9" fill="#f00"/>
<circle cx="388.4" cy="714.5" r="2.9" fill="#f00"/>
<circle cx="388.4" cy="792.5" r="2.9" fill="#f00"/>
<circle cx="396.5" cy="725.5" r="2.9" fill="#f00"/>
<circle cx="396.5" cy="781.5" r="2.9" fill="#f00"/>
<circle cx="406.5" cy="711.6" r="2.9" fill="#f00"/>
<circle cx="406.5" cy="795.4" r="2.9" fill="#f00"/>
<circle cx="407.0" cy="734.5" r="2.9" fill="#f00"/>
<circle cx="407.0" cy="772.5" r="2.9" fill="#f00"/>
<circle cx="413.4" cy="734.5" r="2.9" fill="#f00"/>
<circle cx="413.4" cy="772.5" r="2.9" fill="#f00"/>
<circle cx="422.2" cy="715.1" r="2.9" fill="#f00"/>
<circle cx="422.2" cy="791.9" r="2.9" fill="#f00"/>
<circle cx="424.3" cy="746.3" r="2.9" fill="#f00"/>
<circle cx="424.3" cy="760.7" r="2.9" fill="#f00"/>
<circle cx="438.2" cy="726.0" r="2.9" fill="#f00"/>
<circle cx="438.2" cy="781.0" r="2.9" fill="#f00"/>
<circle cx="449.0" cy="719.1" r="2.9" fill="#f00"/>
<circle cx="449.0" cy="787.9" r="2.9" fill="#f00"/>
<circle cx="454.5" cy="731.2" r="2.9" fill="#f00"/>
<circle cx="454.5" cy="775.8" r="2.9" fill="#f00"/>
<circle cx="448.9" cy="744.0" r="2.9" fill="#f00"/>
<circle cx="448.9" cy="763.0" r="2.9" fill="#f00"/>
<circle cx="475.4" cy="740.0" r="2.9" fill="#f00"/>
<circle cx="475.4" cy="767.0" r="2.9" fill="#f00"/>
<circle cx="491.5" cy="745.6" r="2.9" fill="#f00"/>
<circle cx="491.5" cy="761.4" r="2.9" fill="#f00"/>
<circle cx="106.5" cy="753.5" r="2.9" fill="#f00"/>
<circle cx="181.3" cy="753.5" r="2.9" fill="#f00"/>
<circle cx="205.6" cy="753.5" r="2.9" fill="#f00"/>
<circle cx="227.4" cy="753.5" r="2.9" fill="#f00"/>
<circle cx="272.5" cy="753.5" r="2.9" fill="#f00"/>
<circle cx="334.0" cy="753.5" r="2.9" fill="#f00"/>
<circle cx="385.7" cy="753.5" r="2.9" fill="#f00"/>
<circle cx="402.3" cy="753.5" r="2.9" fill="#f00"/>
<circle cx="412.6" cy="753.5" r="2.9" fill="#f00"/>
<circle cx="440.6" cy="753.5" r="2.9" fill="#f00"/>
<circle cx="463.3" cy="753.5" r="2.9" fill="#f00"/>
<circle cx="506.4" cy="753.5" r="2.9" fill="#f00"/>
<circle cx="522.1" cy="753.5" r="2.9" fill="#f00"/>
<circle cx="530.5" cy="753.5" r="2.9" fill="#f00"/>
<circle cx="545.0" cy="753.5" r="2.9" fill="#f00"/>
<circle cx="577.0" cy="753.5" r="2.9" fill="#f00"/>
<circle cx="607.6" cy="753.5" r="2.9" fill="#f00"/>
<circle cx="933.7" cy="753.5" r="2.9" fill="#f00"/>
<text transform="translate(0,673.76) scale(1,1.03) translate(0,-673.76)" x="533.5" y="686.0" font-size="34" text-anchor="middle"><tspan font-style="italic">P</tspan><tspan dy="2.6">=</tspan><tspan dy="-2.6">0.8</tspan></text>
<circle cx="348.6" cy="811.0" r="11.6" fill="#00f"/>
</g>
</svg></body></html>
